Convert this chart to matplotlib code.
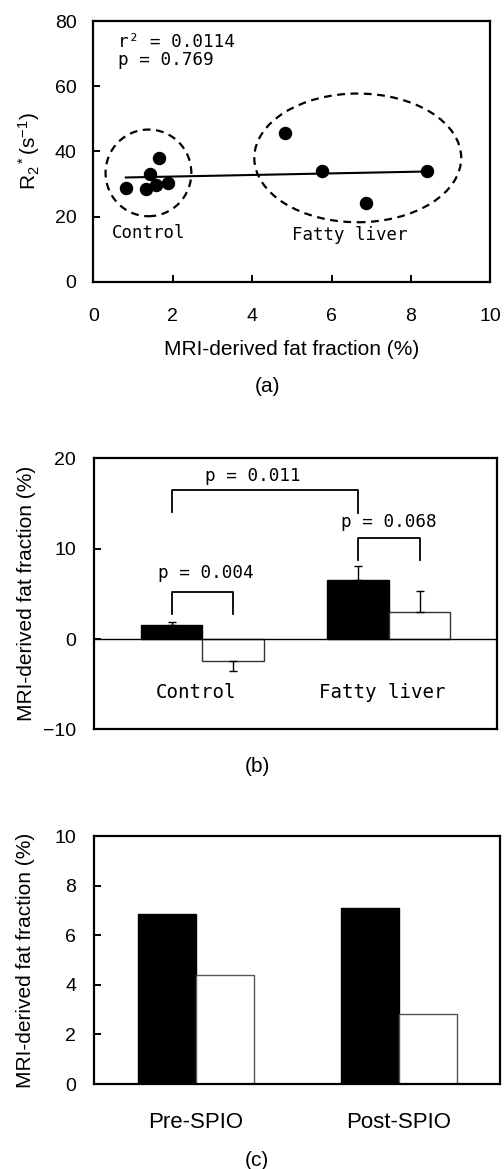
import numpy as np
import matplotlib.pyplot as plt
from matplotlib.patches import Ellipse

plt.rcParams['font.family'] = ['Liberation Sans', 'DejaVu Sans']
plt.rcParams['mathtext.fontset'] = 'custom'
plt.rcParams['mathtext.rm'] = 'Liberation Sans'
plt.rcParams['mathtext.it'] = 'Liberation Sans:italic'

# (a) scatter data
fat_frac = [0.82, 1.33, 1.43, 1.58, 1.66, 1.87, 4.84, 5.76, 6.87, 8.41]
r2star = [28.9, 28.4, 33.2, 29.8, 37.9, 30.3, 45.6, 33.9, 24.2, 34.1]

# (b) group means and SD
groups_b = ['Control', 'Fatty liver']
pre_b = [1.5, 6.5]
pre_b_err = [0.37, 1.58]
diff_b = [-2.45, 3.0]
diff_b_err = [1.03, 2.32]

# (c)
groups_c = ['Pre-SPIO', 'Post-SPIO']
black_c = [6.88, 7.12]
white_c = [4.40, 2.82]

mono = ['DejaVu Sans Mono']

fig = plt.figure(figsize=(5.04, 11.69), dpi=100)

def style(ax):
    for s in ax.spines.values():
        s.set_linewidth(1.6)
    ax.tick_params(direction='in', length=5, width=1.4, labelsize=14)

# ---- (a)
ax = fig.add_axes([0.185, 0.759, 0.788, 0.223])
style(ax)
ax.scatter(fat_frac, r2star, s=75, color='black', zorder=3)
k, b = np.polyfit(fat_frac, r2star, 1)
xs = np.array([min(fat_frac), max(fat_frac)])
ax.plot(xs, k * xs + b, color='black', lw=1.5)
ax.add_patch(Ellipse((1.39, 33.4), 2.16, 26.6, fill=False, ls=(0, (3.5, 2.5)), lw=1.6))
ax.add_patch(Ellipse((6.66, 38.0), 5.21, 39.5, fill=False, ls=(0, (3.5, 2.5)), lw=1.6))
ax.set_xlim(0, 10)
ax.set_ylim(0, 80)
ax.set_xticks([0, 2, 4, 6, 8, 10])
ax.set_yticks([0, 20, 40, 60, 80])
ax.tick_params(axis='x', pad=19)
ax.tick_params(axis='y', pad=12)
ax.text(0.63, 73.5, 'r² = 0.0114', family=mono, fontsize=12.7, va='center')
ax.text(0.63, 67.9, 'p = 0.769', family=mono, fontsize=12.7, va='center')
ax.text(0.46, 15.1, 'Control', family=mono, fontsize=12.5, va='center')
ax.text(5.0, 14.3, 'Fatty liver', family=mono, fontsize=12.5, va='center')
ax.set_xlabel('MRI-derived fat fraction (%)', fontsize=15)
ax.xaxis.set_label_coords(0.5, -0.225)
ax.set_ylabel(r'R$_2$$^*$(s$^{-1}$)', fontsize=15)
ax.yaxis.set_label_coords(-0.13, 0.5)
fig.text(0.53, 1 - 387 / 1169, '(a)', ha='center', va='center', fontsize=15)

# ---- (b)
ax = fig.add_axes([0.187, 0.376, 0.800, 0.232])
style(ax)
x = np.arange(len(groups_b))
w = 0.331
ax.bar(x - w / 2, pre_b, w, color='black', edgecolor='black', lw=1)
ax.bar(x + w / 2, diff_b, w, color='white', edgecolor='#333333', lw=1)
for xi, v, e in zip(x - w / 2, pre_b, pre_b_err):
    yerr = [[0], [e]] if v >= 0 else [[e], [0]]
    ax.errorbar(xi, v, yerr=yerr, color='black', capsize=3, lw=1)
for xi, v, e in zip(x + w / 2, diff_b, diff_b_err):
    yerr = [[0], [e]] if v >= 0 else [[e], [0]]
    ax.errorbar(xi, v, yerr=yerr, color='black', capsize=3, lw=1)
ax.axhline(0, color='black', lw=1)

def bracket(x1, x2, top, l1, l2, txt, tx, ty):
    ax.plot([x1, x1, x2, x2], [l1, top, top, l2], color='black', lw=1.3)
    ax.text(tx, ty, txt, family=mono, fontsize=12.7, ha='center', va='center')

bracket(-w / 2, w / 2, 5.17, 2.77, 2.77, 'p = 0.004', 0.02, 7.3)
bracket(-w / 2, 1 - w / 2, 16.5, 14.0, 13.9, 'p = 0.011', 0.27, 18.0)
bracket(1 - w / 2, 1 + w / 2, 11.14, 8.78, 8.78, 'p = 0.068', 1.0, 13.0)
for xi, g in zip(x, groups_b):
    ax.text(xi - 0.035, -5.9, g, family=mono, fontsize=13.8, ha='center', va='center')
ax.set_xlim(-0.58, 1.583)
ax.set_ylim(-10, 20)
ax.set_xticks([])
ax.set_yticks([-10, 0, 10, 20])
ax.tick_params(axis='y', pad=13)
ax.set_ylabel('MRI-derived fat fraction (%)', fontsize=15)
ax.yaxis.set_label_coords(-0.145, 0.5)
fig.text(0.51, 1 - 767 / 1169, '(b)', ha='center', va='center', fontsize=15)

# ---- (c)
ax = fig.add_axes([0.187, 0.0727, 0.806, 0.212])
style(ax)
x = np.arange(len(groups_c))
w = 0.285
ax.bar(x - w / 2, black_c, w, color='black', edgecolor='black', lw=1)
ax.bar(x + w / 2, white_c, w, color='white', edgecolor='#555555', lw=1)
ax.set_xlim(-0.5, 1.5)
ax.set_ylim(0, 10)
ax.set_xticks(x)
ax.set_xticklabels(groups_c, fontsize=16)
ax.tick_params(axis='x', length=0, pad=20)
ax.set_yticks([0, 2, 4, 6, 8, 10])
ax.tick_params(axis='y', pad=13)
ax.set_ylabel('MRI-derived fat fraction (%)', fontsize=15)
ax.yaxis.set_label_coords(-0.145, 0.5)
fig.text(0.51, 1 - 1160 / 1169, '(c)', ha='center', va='center', fontsize=15)

fig.savefig('out.png', dpi=100)
